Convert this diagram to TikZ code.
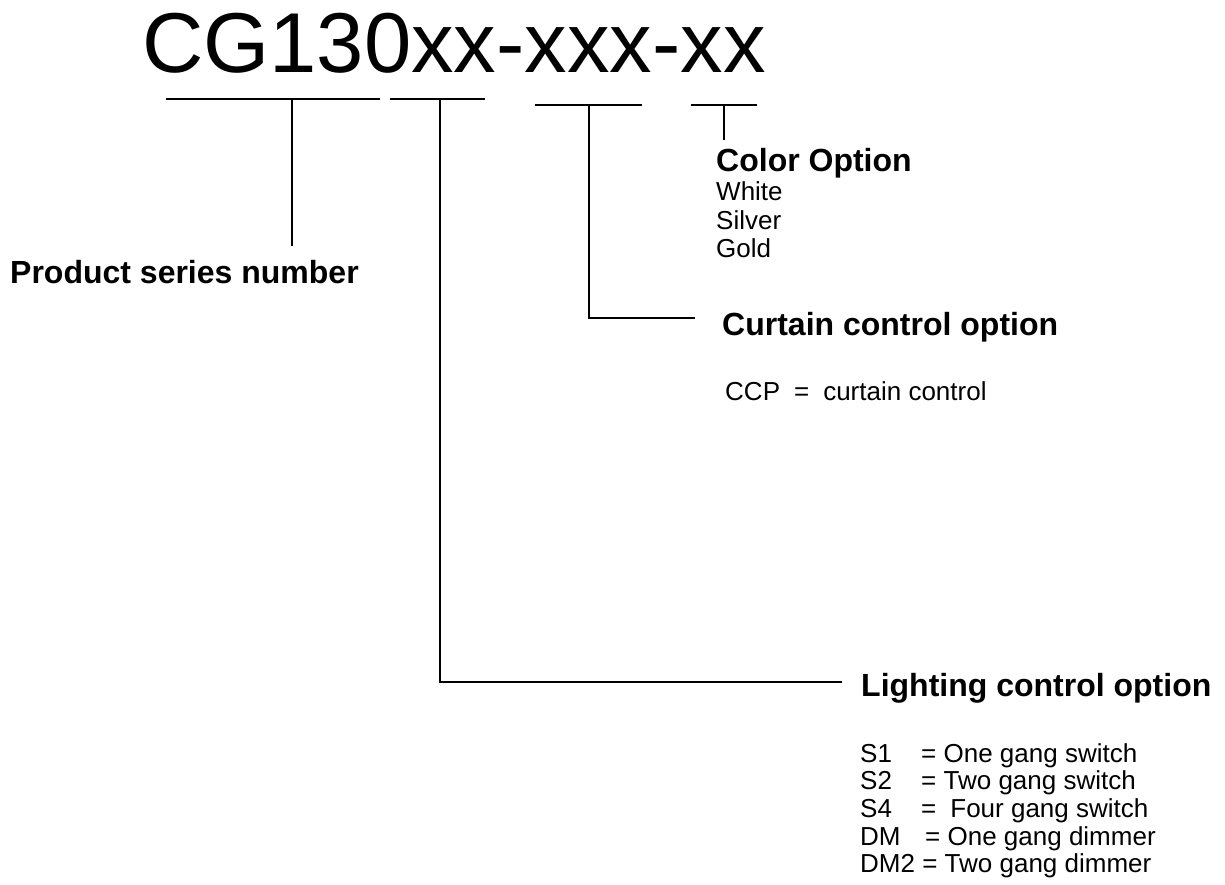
\documentclass[tikz,border=0pt]{standalone}
\usepackage{fontspec}
\setmainfont{Liberation Sans}
\begin{document}
\begin{tikzpicture}[x=1pt,y=-1pt,
  title/.style={anchor=base west, inner sep=0pt, font=\fontsize{85}{100}\selectfont},
  lbl/.style={anchor=base west, inner sep=0pt, font=\bfseries\fontsize{32}{38}\selectfont},
  item/.style={anchor=base west, inner sep=0pt, font=\fontsize{26}{30}\selectfont},
  conn/.style={line width=2.6pt, black, line join=miter, line cap=butt}]
\useasboundingbox (0,0) rectangle (1225,885);

% code
\node[title] (code) at (142,73) {CG130xx-xxx-xx};

% underline bars
\coordinate (u1l) at (166,99);  \coordinate (u1r) at (380,99);  \coordinate (u1m) at (292,99);
\coordinate (u2l) at (390,99);  \coordinate (u2r) at (485,99);  \coordinate (u2m) at (440,99);
\coordinate (u3l) at (535,105); \coordinate (u3r) at (642,105); \coordinate (u3m) at (589,105);
\coordinate (u4l) at (691,105); \coordinate (u4r) at (757,105); \coordinate (u4m) at (724,105);
\draw[conn] (u1l) -- (u1r);
\draw[conn] (u2l) -- (u2r);
\draw[conn] (u3l) -- (u3r);
\draw[conn] (u4l) -- (u4r);

% leader ends
\coordinate (e1) at (292,246);
\coordinate (e4) at (724,140);
\coordinate (e3) at (695,318);
\coordinate (e2) at (842,682);

% labels
\node[lbl] (prod) at (10,283) {Product series number};
\node[lbl] (color) at (716,172) {Color Option};
\node[item] (white) at (716,201) {White};
\node[item] (silver) at (716,230) {Silver};
\node[item] (gold) at (716,258) {Gold};

\node[lbl] (curtain) at (722,335) {Curtain control option};
\node[item] (ccp) at (725,400) {CCP\hspace{14pt}=\hspace{14pt}curtain control};

\node[lbl] (light) at (861,696) {Lighting control option};
\node[item] (s1) at (860,762) {\makebox[61pt][l]{S1}= One gang switch};
\node[item] (s2) at (860,789) {\makebox[61pt][l]{S2}= Two gang switch};
\node[item] (s4) at (860,817) {\makebox[61pt][l]{S4}=\hspace{14pt}Four gang switch};
\node[item] (dm) at (860,845) {\makebox[65pt][l]{DM}= One gang dimmer};
\node[item] (dm2) at (860,872) {DM2 = Two gang dimmer};

% connectors
\draw[conn] (u1m) -- (e1);
\draw[conn] (u4m) -- (e4);
\draw[conn] (u3m) |- (e3);
\draw[conn] (u2m) |- (e2);
\end{tikzpicture}
\end{document}
